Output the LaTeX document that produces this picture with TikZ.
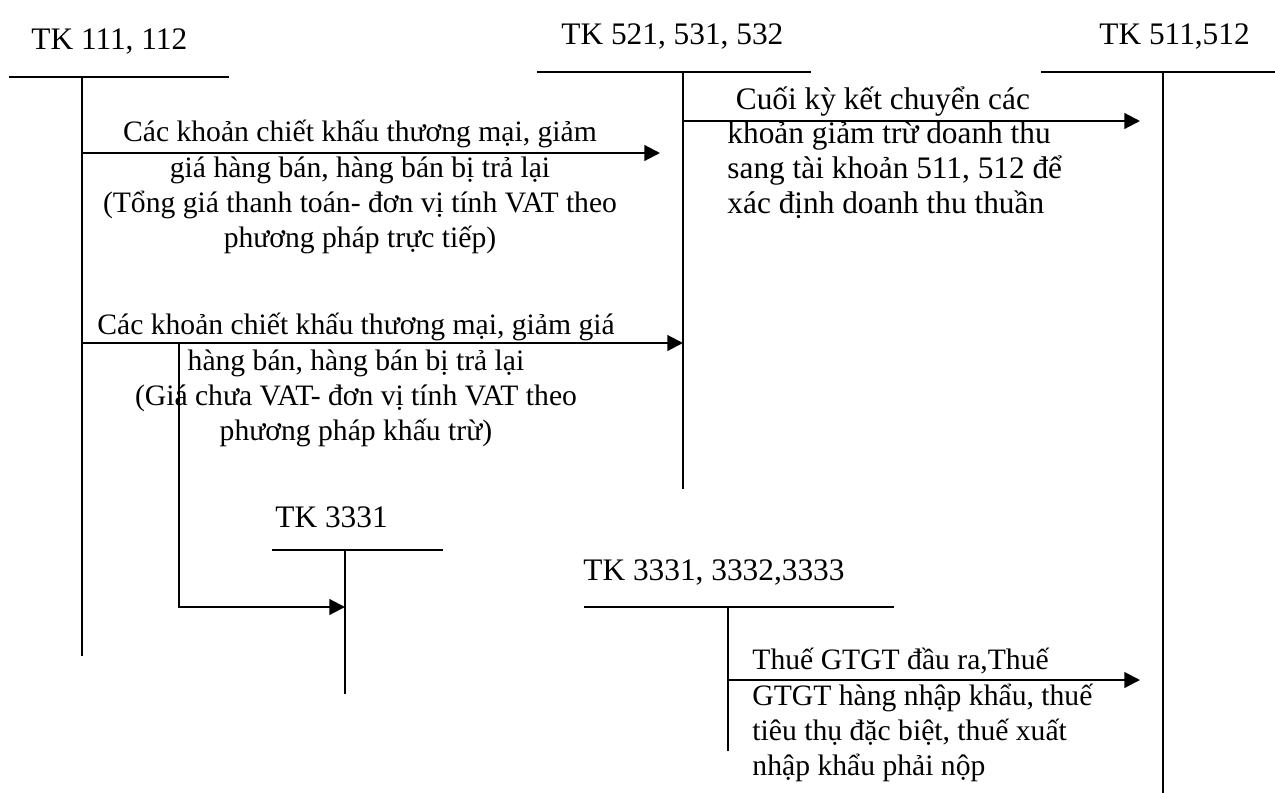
\documentclass[tikz,border=0pt]{standalone}
\usepackage{fontspec}
\setmainfont{Liberation Serif}
\usetikzlibrary{arrows.meta}
\tikzset{
  taccount/.style={line width=0.9pt, line cap=rect},
  accname/.style={font=\fontsize{13}{15}\selectfont, anchor=base west, inner sep=0pt},
  note/.style={font=\fontsize{12.3}{14.6}\selectfont, inner sep=0pt},
  arrow/.style={-{Triangle[length=6.5pt, width=6.5pt]}, line width=0.9pt},
}

\begin{document}
\begin{tikzpicture}[x=0.415pt, y=-0.415pt]
  \useasboundingbox (0,0) rectangle (1275,793);
  % account names
  \node[accname] (n111) at (31,50) {TK 111, 112};
  \node[accname] (n521) at (561,44) {TK 521, 531, 532};
  \node[accname] (n511) at (1099,44) {TK 511,512};
  \node[accname] (n3331) at (275,527) {TK 3331};
  \node[accname] (n333x) at (583,580) {TK 3331, 3332,3333};
  % T accounts
  \coordinate (t111l) at (10,77);   \coordinate (t111r) at (228,77);
  \coordinate (t111) at (82,77);    \coordinate (t111b) at (82,655);
  \coordinate (t521l) at (538,72);  \coordinate (t521r) at (810,72);
  \coordinate (t521) at (683,72);   \coordinate (t521b) at (683,488);
  \coordinate (t511l) at (1042,72); \coordinate (t511r) at (1275,72);
  \coordinate (t511) at (1163,72);  \coordinate (t511b) at (1163,793);
  \coordinate (t3331l) at (273,550); \coordinate (t3331r) at (442,550);
  \coordinate (t3331) at (345,550);  \coordinate (t3331b) at (345,693);
  \coordinate (t333xl) at (585,607); \coordinate (t333xr) at (893,607);
  \coordinate (t333x) at (728,607);  \coordinate (t333xb) at (728,750);
  \foreach \acc in {111,521,511,3331,333x}{
    \draw[taccount] (t\acc l) -- (t\acc r);
    \draw[taccount] (t\acc) -- (t\acc b);
  }
  % entries
  \coordinate (a1s) at (82,153);   \coordinate (a1e) at (660,153);
  \coordinate (a2s) at (82,343);   \coordinate (a2e) at (683,343);
  \coordinate (a3s) at (683,121);  \coordinate (a3e) at (1140,121);
  \coordinate (a4s) at (179,343);  \coordinate (a4e) at (345,607);
  \coordinate (a5s) at (728,680);  \coordinate (a5e) at (1140,680);
  \draw[arrow] (a1s) -- (a1e);
  \draw[arrow] (a2s) -- (a2e);
  \draw[arrow] (a3s) -- (a3e);
  \draw[arrow] (a4s) |- (a4e);
  \draw[arrow] (a5s) -- (a5e);
  \node[note, align=center, anchor=north] (l1) at (360,120)
    {Các khoản chiết khấu thương mại, giảm\\giá hàng bán, hàng bán bị trả lại\\(Tổng giá thanh toán- đơn vị tính VAT theo\\phương pháp trực tiếp)};
  \node[note, align=center, anchor=north] (l2) at (356,313)
    {Các khoản chiết khấu thương mại, giảm giá\\hàng bán, hàng bán bị trả lại\\(Giá chưa VAT- đơn vị tính VAT theo\\phương pháp khấu trừ)};
  \node[note, font=\fontsize{13}{14.4}\selectfont, align=left, anchor=north west] (l3) at (727,86)
    {\hspace*{3.5pt}Cuối kỳ kết chuyển các\\khoản giảm trừ doanh thu\\sang tài khoản 511, 512 để\\xác định doanh thu thuần};
  \node[note, align=left, anchor=north west] (l5) at (752,648)
    {Thuế GTGT đầu ra,Thuế\\GTGT hàng nhập khẩu, thuế\\tiêu thụ đặc biệt, thuế xuất\\nhập khẩu phải nộp};
\end{tikzpicture}
\end{document}
